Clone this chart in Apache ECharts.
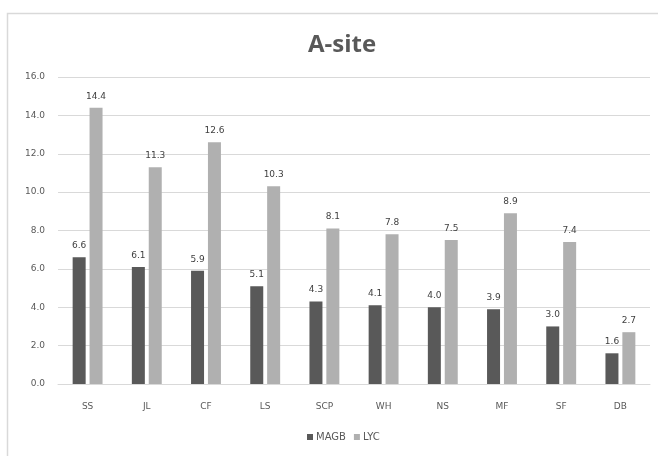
<!DOCTYPE html>
<html>
<head>
<meta charset="utf-8">
<script src="https://cdn.jsdelivr.net/npm/echarts@6/dist/echarts.min.js"></script>
<style>html,body{margin:0;padding:0;background:#fff;}#c{width:658px;height:456px;}</style>
</head>
<body>
<div id="c"></div>
<script>
var categories = ['SS','JL','CF','LS','SCP','WH','NS','MF','SF','DB'];
var magb = [6.6, 6.1, 5.9, 5.1, 4.3, 4.1, 4.0, 3.9, 3.0, 1.6];
var lyc = [14.4, 11.3, 12.6, 10.3, 8.1, 7.8, 7.5, 8.9, 7.4, 2.7];
var yTicks = [0, 2, 4, 6, 8, 10, 12, 14, 16];

var chart = echarts.init(document.getElementById('c'));
var lbl = {show:true, position:'top', distance:7, fontSize:9, color:'#404040', fontFamily:'DejaVu Sans', formatter:function(p){return p.value.toFixed(1);}};
chart.setOption({
  animation:false,
  graphic:[{type:'rect', shape:{x:7.5, y:13.5, width:700, height:500}, style:{fill:'none', stroke:'#d9d9d9', lineWidth:1.5}, z:-1}],
  title:{text:'A-site', left:337, top:28, textAlign:'center', textStyle:{fontSize:24, fontWeight:'bold', color:'#595959', fontFamily:'Open Sans'}},
  legend:{bottom:9, left:302, itemWidth:6, itemHeight:6, itemGap:8, icon:'rect', textStyle:{fontSize:10, color:'#595959', fontFamily:'DejaVu Sans', padding:[0,0,0,-2]}, data:['MAGB','LYC']},
  grid:{left:58, right:8, top:77, bottom:72, containLabel:false},
  xAxis:{type:'category', data:categories, axisTick:{show:false}, axisLine:{lineStyle:{color:'#d9d9d9', width:1}}, axisLabel:{margin:18, fontSize:9, color:'#595959', fontFamily:'DejaVu Sans'}},
  yAxis:{type:'value', min:yTicks[0], max:yTicks[yTicks.length-1], interval:2, axisLine:{show:false}, axisTick:{show:false}, splitLine:{lineStyle:{color:'#d9d9d9'}}, axisLabel:{margin:13, fontSize:9, color:'#595959', fontFamily:'DejaVu Sans', formatter:function(v){return v.toFixed(1);}}},
  series:[
    {name:'MAGB', type:'bar', data:magb, barWidth:13, barGap:'30%', itemStyle:{color:'#595959'}, label:lbl},
    {name:'LYC', type:'bar', data:lyc, barWidth:13, barGap:'30%', itemStyle:{color:'#b0b0b0'}, label:lbl}
  ]
});
</script>
</body>
</html>
